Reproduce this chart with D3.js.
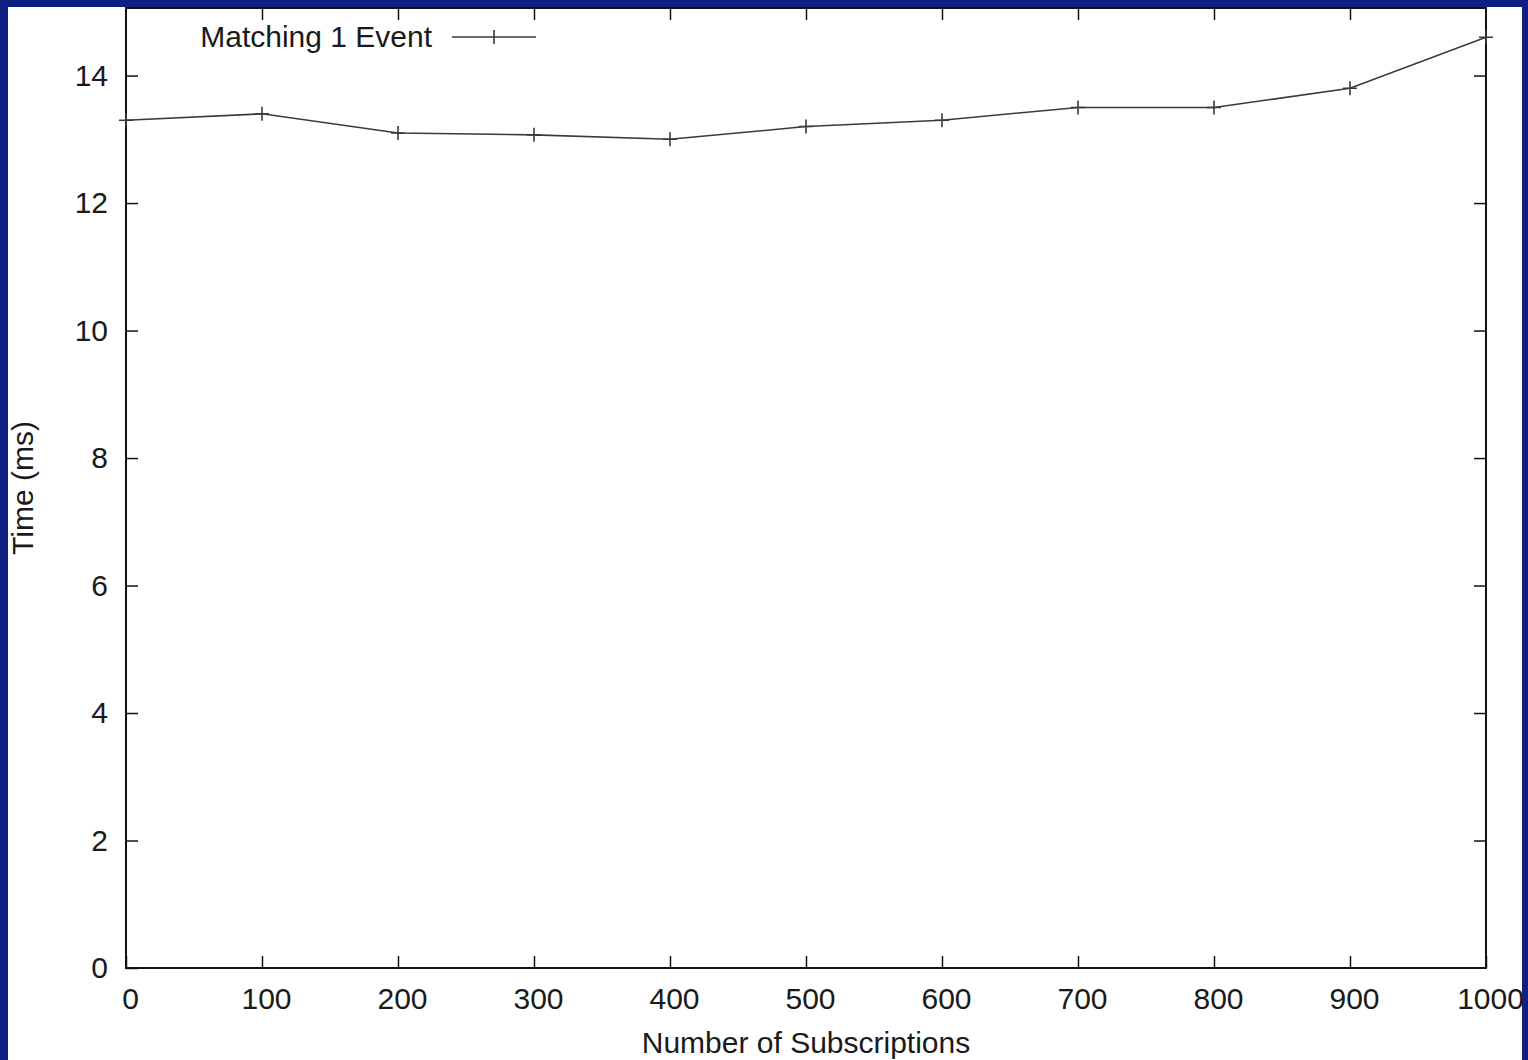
<!DOCTYPE html>
<html lang="en">
<head>
<meta charset="UTF-8">
<title>Matching 1 Event</title>
<script src="https://d3js.org/d3.v7.min.js"></script>
<style>
  body { margin: 0; background: #0f1f82; }
  svg { display: block; }
  text { font-family: "Liberation Sans", Arial, sans-serif; fill: #1a1a1a; }
</style>
</head>
<body>
<div id="chart"></div>
<script>
// data
const subscriptions = [0, 100, 200, 300, 400, 500, 600, 700, 800, 900, 1000];
const timeMs = [13.3, 13.4, 13.1, 13.07, 13.0, 13.2, 13.3, 13.5, 13.5, 13.8, 14.6];
const xTicks = [0, 100, 200, 300, 400, 500, 600, 700, 800, 900, 1000];
const yTicks = [0, 2, 4, 6, 8, 10, 12, 14];
const seriesName = "Matching 1 Event";

const W = 1528, H = 1060;
const plot = { left: 126, right: 1486, top: 8, bottom: 968 };
const fontSize = 30;

const svg = d3.select("#chart").append("svg")
  .attr("width", W)
  .attr("height", H);

// white page inside the navy frame
svg.append("rect")
  .attr("x", 8).attr("y", 7)
  .attr("width", 1514).attr("height", H - 7)
  .attr("fill", "#fff");

const x = d3.scaleLinear().domain([0, 1000]).range([plot.left, plot.right]);
const y = d3.scaleLinear().domain([0, 15.06]).range([plot.bottom, plot.top]);

const tickLen = 12;
const axisColor = "#111";

// bottom / top ticks (gnuplot style mirrored ticks)
svg.append("g")
  .attr("transform", `translate(0,${plot.bottom})`)
  .call(d3.axisBottom(x).tickValues(xTicks).tickSize(-tickLen).tickPadding(20).tickFormat(d3.format("d")))
  .call(g => g.select(".domain").remove())
  .call(g => g.selectAll("line").attr("stroke", axisColor).attr("stroke-width", 1.5))
  .call(g => g.selectAll("text").attr("font-size", fontSize).attr("fill", "#1a1a1a").attr("dx", 4)
    .attr("font-family", "'Liberation Sans', Arial, sans-serif"));

svg.append("g")
  .attr("transform", `translate(0,${plot.top})`)
  .call(d3.axisTop(x).tickValues(xTicks.slice(1, -1)).tickSize(-tickLen).tickFormat(""))
  .call(g => g.select(".domain").remove())
  .call(g => g.selectAll("line").attr("stroke", axisColor).attr("stroke-width", 1.5));

// left / right ticks
svg.append("g")
  .attr("transform", `translate(${plot.left},0)`)
  .call(d3.axisLeft(y).tickValues(yTicks).tickSize(-tickLen).tickPadding(18))
  .call(g => g.select(".domain").remove())
  .call(g => g.selectAll("line").attr("stroke", axisColor).attr("stroke-width", 1.5))
  .call(g => g.selectAll("text").attr("font-size", fontSize).attr("fill", "#1a1a1a")
    .attr("font-family", "'Liberation Sans', Arial, sans-serif"));

svg.append("g")
  .attr("transform", `translate(${plot.right},0)`)
  .call(d3.axisRight(y).tickValues(yTicks.slice(1)).tickSize(-tickLen).tickFormat(""))
  .call(g => g.select(".domain").remove())
  .call(g => g.selectAll("line").attr("stroke", axisColor).attr("stroke-width", 1.5));

// frame
svg.append("rect")
  .attr("x", plot.left).attr("y", plot.top)
  .attr("width", plot.right - plot.left).attr("height", plot.bottom - plot.top)
  .attr("fill", "none")
  .attr("stroke", axisColor)
  .attr("stroke-width", 2);

// data line
const pts = subscriptions.map((s, i) => [s, timeMs[i]]);
const lineColor = "#3a3a3a";

svg.append("path")
  .datum(pts)
  .attr("fill", "none")
  .attr("stroke", lineColor)
  .attr("stroke-width", 1.6)
  .attr("d", d3.line().x(d => x(d[0])).y(d => y(d[1])));

// "+" point markers
svg.append("g").selectAll("path")
  .data(pts)
  .join("path")
  .attr("d", d => {
    const cx = x(d[0]), cy = y(d[1]), r = 7;
    return `M${cx - r},${cy}H${cx + r}M${cx},${cy - r}V${cy + r}`;
  })
  .attr("stroke", lineColor)
  .attr("stroke-width", 1.6);

// legend
svg.append("text")
  .attr("x", 432).attr("y", 47)
  .attr("text-anchor", "end")
  .attr("font-size", fontSize)
  .text(seriesName);

svg.append("path")
  .attr("d", "M452,37H536M494,30V44")
  .attr("stroke", lineColor)
  .attr("stroke-width", 1.6);

// axis titles
svg.append("text")
  .attr("x", (plot.left + plot.right) / 2)
  .attr("y", 1053)
  .attr("text-anchor", "middle")
  .attr("font-size", fontSize)
  .text("Number of Subscriptions");

svg.append("text")
  .attr("transform", `translate(33,${(plot.top + plot.bottom) / 2}) rotate(-90)`)
  .attr("text-anchor", "middle")
  .attr("font-size", fontSize)
  .text("Time (ms)");

// navy border on top, clipping the edges like the reference
svg.append("path")
  .attr("fill", "#0f1f82")
  .attr("fill-rule", "evenodd")
  .attr("d", `M0,0H${W}V${H}H0Z M8,7H1522V${H}H8Z`);
</script>
</body>
</html>
